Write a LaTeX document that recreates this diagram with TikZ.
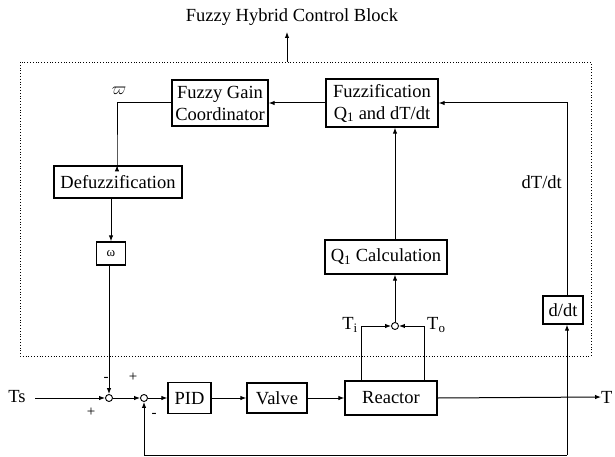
\documentclass[tikz,border=0pt]{standalone}
\usepackage{fontspec}
\setmainfont{Liberation Serif}
\usetikzlibrary{arrows.meta,calc}
\begin{document}
\begin{tikzpicture}[x=1pt,y=-1pt,
  every node/.style={font=\fontsize{18.5}{24}\selectfont},
  blk/.style={draw,line width=1.3pt,inner sep=0pt,align=center},
  sumc/.style={draw,circle,line width=0.9pt,minimum size=7pt,inner sep=0pt},
  conn/.style={line width=1pt},
  arr/.style={conn,-{Latex[length=6pt,width=4.5pt]}},
  sign/.style={font=\fontsize{15}{16}\selectfont,inner sep=0pt}]
\useasboundingbox (0,0) rectangle (615,457);
% dotted block
\draw[dotted,line width=0.8pt] (20,62) rectangle (591,356);
\coordinate (boxtop) at (287,62);
\node (title) at (292,17) {Fuzzy Hybrid Control Block};
\draw[arr] (boxtop) -- (287,32);
% blocks
\node[blk,minimum width=96pt,minimum height=46pt] (fgc) at (220,103) {Fuzzy Gain\\[-2pt]Coordinator};
\node[blk,minimum width=112pt,minimum height=48pt] (fuz) at (382,103) {Fuzzification\\[-2pt]Q\textsubscript{1} and dT/dt};
\node[blk,minimum width=128pt,minimum height=32pt] (defz) at (118,182) {Defuzzification};
\node[blk,minimum width=29pt,minimum height=23pt,font=\fontsize{13}{14}\selectfont] (om) at (111,253.5) {ω};
\node[blk,minimum width=122pt,minimum height=34pt] (q1) at (386,257) {Q\textsubscript{1} Calculation};
\node[blk,minimum width=40pt,minimum height=28pt] (dd) at (563,310) {d/dt};
\node[blk,minimum width=43pt,minimum height=31pt] (pid) at (189.5,398) {PID};
\node[blk,minimum width=60pt,minimum height=30pt] (valve) at (277,398) {Valve};
\node[blk,minimum width=92pt,minimum height=34pt] (reactor) at (391,398) {Reactor};
\node[sumc] (s1) at (109,398) {};
\node[sumc] (s2) at (144,398) {};
\node[sumc] (s3) at (395,326) {};
% texts
\node (ts) at (17,397) {Ts};
\node[anchor=west,inner sep=0pt] (tout) at (601,397) {T};
\node[anchor=east,inner sep=0pt] (ti) at (358,325) {T\textsubscript{i}};
\node[anchor=west,inner sep=0pt] (to) at (427,325) {T\textsubscript{o}};
\node[anchor=east,inner sep=0pt] (dtl) at (562,182) {dT/dt};
\node[inner sep=0pt] (vp) at (119,91) {$\varpi$};
\node[sign] (m1) at (106,379) {-};
\node[sign] (p1) at (91,412) {+};
\node[sign] (p2) at (133,377) {+};
\node[sign] (m2) at (154,415) {-};
% connectors
\coordinate (tsout) at (35,398);
\coordinate (fbk) at (567,455);
\draw[arr] (fuz.west) -- (fgc.east);
\draw[arr] (fgc.west) -| (117,166) -- (defz.north -| 117,0);
\draw[arr] (om.north |- defz.south) -- (om.north);
\draw[arr] (s1 |- om.south) -- (s1.north);
\draw[arr] (tsout) -- (s1.west);
\draw[arr] (s1.east) -- (s2.west);
\draw[arr] (s2.east) -- (pid.west);
\draw[arr] (pid.east) -- (valve.west);
\draw[arr] (valve.east) -- (reactor.west);
\draw[arr] (reactor.east) -- (tout.west);
\draw[arr] ($(reactor.north west)+(17,0)$) |- (s3.west);
\draw[arr] ($(reactor.north east)+(-13,0)$) |- (s3.east);
\draw[arr] (s3.north) -- (s3.north |- q1.south);
\draw[arr] (q1.north -| s3) -- (fuz.south -| s3);
\draw[arr] (fbk) -- (fbk |- dd.south);
\draw[arr] (fbk) -| (s2.south);
\draw[arr] (fbk |- dd.north) |- (fuz.east);
\end{tikzpicture}
\end{document}
